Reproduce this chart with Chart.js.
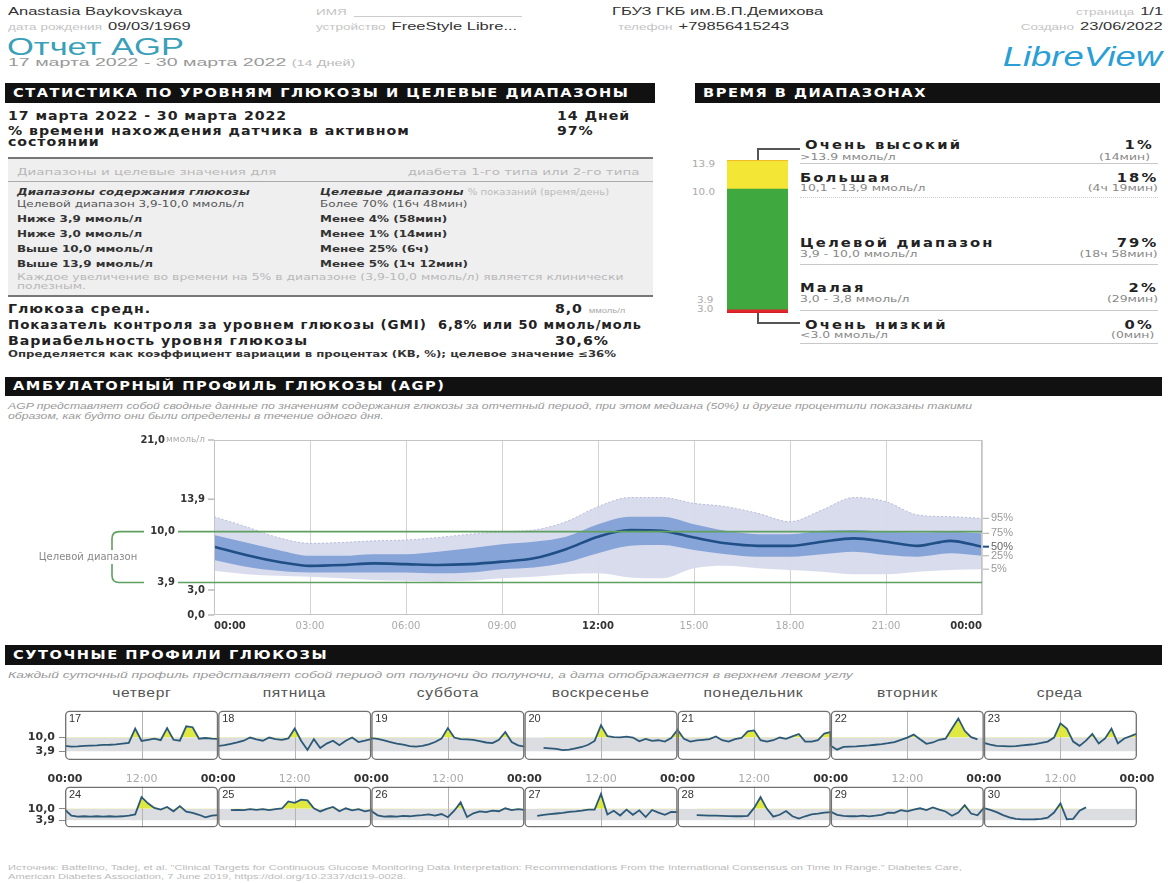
<!DOCTYPE html>
<html>
<head>
<meta charset="utf-8">
<script src="https://cdn.jsdelivr.net/npm/chart.js@4.4.0/dist/chart.umd.min.js"></script>
<style>
body{margin:0;width:1168px;height:883px;background:#fff;position:relative;overflow:hidden;font-family:"Liberation Sans",Arial,sans-serif;color:#222}
.a{position:absolute;white-space:nowrap;line-height:1;transform-origin:0 50%}
.ro{transform-origin:100% 50%}
.hd{font-size:11px;color:#333;transform:scaleX(1.5)}
.lbl{color:#c4c4c4;font-size:9px;margin-right:4px}
.bar{position:absolute;background:#111;color:#fff;font-family:"DejaVu Sans";font-weight:bold;font-size:11.5px;letter-spacing:1.2px;padding-left:8px;box-sizing:border-box;height:20px;line-height:20px;white-space:nowrap;overflow:hidden}
.bar span{display:inline-block;transform:scaleX(1.27);transform-origin:0 50%}
.b{font-family:"DejaVu Sans";font-weight:bold;font-size:12px;letter-spacing:0.8px;color:#222;transform:scaleX(1.18)}
.s{font-family:"DejaVu Sans";font-size:9px;color:#b8b8b8;transform:scaleX(1.5)}
.r{font-family:"DejaVu Sans";font-weight:bold;font-size:9.5px;color:#333;transform:scaleX(1.26)}
.rn{font-weight:normal;color:#555}
.unit{font-family:"Liberation Sans";font-weight:normal;font-size:8px;color:#aaa;letter-spacing:0}
.rule{position:absolute;height:1px;background:#c8c8c8}
.tb{font-family:"DejaVu Sans";font-weight:bold;font-size:12.5px;letter-spacing:1.8px;color:#222;transform:scaleX(1.18)}
.ts{font-family:"DejaVu Sans";font-size:9px;color:#888;transform:scaleX(1.38)}
.it{font-family:"Liberation Sans";font-style:italic;font-size:9px;color:#999}
.day{position:absolute;top:686px;width:153px;text-align:center;font-size:12px;color:#555;letter-spacing:0.5px}
.day span{display:inline-block;transform:scaleX(1.3)}
.chart{position:absolute}
</style>
</head>
<body>

<!-- шапка -->
<div class="a hd" style="left:8px;top:6px">Anastasia Baykovskaya</div>
<div class="a hd" style="left:8px;top:21px"><span class="lbl">дата рождения</span>09/03/1969</div>
<div class="a hd" style="left:316px;top:6px"><span class="lbl">ИМЯ</span></div>
<div class="rule" style="left:354px;top:16px;width:168px;background:#ccc"></div>
<div class="a hd" style="left:316px;top:21px"><span class="lbl">устройство</span>FreeStyle Libre...</div>
<div class="a hd" style="left:612px;top:6px">ГБУЗ ГКБ им.В.П.Демихова</div>
<div class="a hd" style="left:618px;top:21px"><span class="lbl">телефон</span>+79856415243</div>
<div class="a hd ro" style="right:5px;top:6px"><span class="lbl">страница</span>1/1</div>
<div class="a hd ro" style="right:5px;top:21px"><span class="lbl">Создано</span>23/06/2022</div>
<div class="a" style="left:7px;top:36px;font-size:23px;color:#3a9fb8;transform:scaleX(1.5)">Отчет AGP</div>
<div class="a" style="left:8px;top:57px;font-size:11.5px;color:#999;transform:scaleX(1.7)">17 марта 2022 - 30 марта 2022 <span style="font-size:8.5px;color:#bbb">(14 Дней)</span></div>
<div class="a ro" style="right:6px;top:44px;font-size:27px;font-style:italic;color:#2a9fd6;transform:scaleX(1.35)">LibreView</div>

<!-- статистика -->
<div class="bar" style="left:5px;top:83px;width:650px"><span>СТАТИСТИКА ПО УРОВНЯМ ГЛЮКОЗЫ И ЦЕЛЕВЫЕ ДИАПАЗОНЫ</span></div>
<div class="a b" style="left:8px;top:110px">17 марта 2022 - 30 марта 2022</div>
<div class="a b" style="left:557px;top:110px">14 Дней</div>
<div class="a b" style="left:8px;top:125px">% времени нахождения датчика в активном</div>
<div class="a b" style="left:8px;top:136px">состоянии</div>
<div class="a b" style="left:557px;top:125px">97%</div>
<div class="a" style="left:8px;top:158px;width:645px;height:138px;background:#efefef"></div>
<div class="rule" style="left:8px;top:157px;width:645px;height:2px;background:#777"></div>
<div class="a s" style="left:17px;top:168px">Диапазоны и целевые значения для</div>
<div class="a s ro" style="right:528px;top:168px">диабета 1-го типа или 2-го типа</div>
<div class="rule" style="left:8px;top:181px;width:645px;background:#aaa"></div>
<div class="a r" style="left:17px;top:187px;font-style:italic">Диапазоны содержания глюкозы</div>
<div class="a r" style="left:320px;top:187px;font-style:italic">Целевые диапазоны <span style="font-style:normal;font-weight:normal;color:#bbb;font-size:8px">% показаний (время/день)</span></div>
<div class="a r rn" style="left:17px;top:199px">Целевой диапазон 3,9-10,0 ммоль/л</div>
<div class="a r rn" style="left:320px;top:199px">Более 70% (16ч 48мин)</div>
<div class="a r" style="left:17px;top:214px">Ниже 3,9 ммоль/л</div>
<div class="a r" style="left:320px;top:214px">Менее 4% (58мин)</div>
<div class="a r" style="left:17px;top:229px">Ниже 3,0 ммоль/л</div>
<div class="a r" style="left:320px;top:229px">Менее 1% (14мин)</div>
<div class="a r" style="left:17px;top:244px">Выше 10,0 ммоль/л</div>
<div class="a r" style="left:320px;top:244px">Менее 25% (6ч)</div>
<div class="a r" style="left:17px;top:259px">Выше 13,9 ммоль/л</div>
<div class="a r" style="left:320px;top:259px">Менее 5% (1ч 12мин)</div>
<div class="a s" style="left:17px;top:274px;font-size:8px;transform:scaleX(1.55)">Каждое увеличение во времени на 5% в диапазоне (3,9-10,0 ммоль/л) является клинически</div>
<div class="a s" style="left:17px;top:283px;font-size:8px;transform:scaleX(1.55)">полезным.</div>
<div class="rule" style="left:8px;top:295px;width:645px;height:2px;background:#777"></div>
<div class="a b" style="left:8px;top:303px">Глюкоза средн.</div>
<div class="a b" style="left:555px;top:303px">8,0 <span class="unit">ммоль/л</span></div>
<div class="a b" style="left:8px;top:319px;transform:scaleX(1.12)">Показатель контроля за уровнем глюкозы (GMI)</div>
<div class="a b" style="left:438px;top:319px;transform:scaleX(1.08)">6,8% или 50 ммоль/моль</div>
<div class="a b" style="left:8px;top:335px">Вариабельность уровня глюкозы</div>
<div class="a b" style="left:555px;top:335px">30,6%</div>
<div class="a" style="left:8px;top:350px;font-family:'DejaVu Sans';font-weight:bold;font-size:8.5px;color:#333;transform:scaleX(1.38)">Определяется как коэффициент вариации в процентах (КВ, %); целевое значение ≤36%</div>

<!-- время в диапазонах -->
<div class="bar" style="left:695px;top:83px;width:465px"><span>ВРЕМЯ В ДИАПАЗОНАХ</span></div>
<div class="chart" style="left:727px;top:160px;width:61px;height:153px"><canvas id="tir"></canvas></div>
<div class="a ts" style="left:692px;top:160px;color:#aaa;transform:scaleX(1.15)">13.9</div>
<div class="a ts" style="left:692px;top:188px;color:#aaa;transform:scaleX(1.15)">10.0</div>
<div class="a ts" style="left:697px;top:296px;color:#aaa;transform:scaleX(1.15)">3.9</div>
<div class="a ts" style="left:697px;top:305px;color:#aaa;transform:scaleX(1.15)">3.0</div>
<div class="a" style="left:757px;top:148px;width:1.5px;height:12px;background:#555"></div>
<div class="a" style="left:757px;top:148px;width:43px;height:1.5px;background:#555"></div>
<div class="a" style="left:757px;top:313px;width:1.5px;height:10px;background:#555"></div>
<div class="a" style="left:757px;top:322px;width:43px;height:1.5px;background:#555"></div>

<div class="a tb" style="left:805px;top:139px">Очень высокий</div>
<div class="a tb ro" style="right:14px;top:139px">1%</div>
<div class="a ts" style="left:800px;top:153px">&gt;13.9 ммоль/л</div>
<div class="a ts ro" style="right:18px;top:153px">(14мин)</div>
<div class="rule" style="left:800px;top:163px;width:358px"></div>
<div class="a tb" style="left:800px;top:172px">Большая</div>
<div class="a tb ro" style="right:10px;top:172px">18%</div>
<div class="a ts" style="left:800px;top:184px">10,1 - 13,9 ммоль/л</div>
<div class="a ts ro" style="right:10px;top:184px">(4ч 19мин)</div>
<div class="rule" style="left:800px;top:197px;width:358px;background:none;border-top:1px dotted #ccc"></div>
<div class="a tb" style="left:800px;top:237px">Целевой диапазон</div>
<div class="a tb ro" style="right:10px;top:237px">79%</div>
<div class="a ts" style="left:800px;top:250px">3,9 - 10,0 ммоль/л</div>
<div class="a ts ro" style="right:10px;top:250px">(18ч 58мин)</div>
<div class="rule" style="left:800px;top:264px;width:358px"></div>
<div class="a tb" style="left:800px;top:282px">Малая</div>
<div class="a tb ro" style="right:10px;top:282px">2%</div>
<div class="a ts" style="left:800px;top:295px">3,0 - 3,8 ммоль/л</div>
<div class="a ts ro" style="right:10px;top:295px">(29мин)</div>
<div class="rule" style="left:800px;top:310px;width:358px"></div>
<div class="a tb" style="left:805px;top:319px">Очень низкий</div>
<div class="a tb ro" style="right:14px;top:319px">0%</div>
<div class="a ts" style="left:800px;top:331px">&lt;3.0 ммоль/л</div>
<div class="a ts ro" style="right:14px;top:331px">(0мин)</div>
<div class="rule" style="left:800px;top:343px;width:358px"></div>

<!-- AGP -->
<div class="bar" style="left:5px;top:377px;width:1157px;height:19px;line-height:19px"><span>АМБУЛАТОРНЫЙ ПРОФИЛЬ ГЛЮКОЗЫ (AGP)</span></div>
<div class="a it" style="left:8px;top:402px;transform:scaleX(1.36)">AGP представляет собой сводные данные по значениям содержания глюкозы за отчетный период, при этом медиана (50%) и другие процентили показаны такими</div>
<div class="a it" style="left:8px;top:412px;transform:scaleX(1.36)">образом, как будто они были определены в течение одного дня.</div>
<div class="chart" style="left:20px;top:432px;width:1010px;height:200px"><canvas id="agp"></canvas></div>

<!-- суточные профили -->
<div class="bar" style="left:5px;top:645px;width:1157px"><span>СУТОЧНЫЕ ПРОФИЛИ ГЛЮКОЗЫ</span></div>
<div class="a it" style="left:8px;top:671px;transform:scaleX(1.54)">Каждый суточный профиль представляет собой период от полуночи до полуночи, а дата отображается в верхнем левом углу</div>
<div id="dayNames"></div>
<div class="chart" style="left:10px;top:700px;width:1150px;height:82px"><canvas id="row1"></canvas></div>
<div class="chart" style="left:10px;top:776px;width:1150px;height:62px"><canvas id="row2"></canvas></div>

<div class="a" style="left:8px;top:864px;font-size:7.5px;color:#bbb;transform:scaleX(1.48)">Источник: Battelino, Tadej, et al. "Clinical Targets for Continuous Glucose Monitoring Data Interpretation: Recommendations From the International Consensus on Time in Range." Diabetes Care,</div>
<div class="a" style="left:8px;top:873px;font-size:7.5px;color:#bbb;transform:scaleX(1.48)">American Diabetes Association, 7 June 2019, https://doi.org/10.2337/dci19-0028.</div>

<script>
// ---- данные ----
const TARGET_LOW = 3.9;
const TARGET_HIGH = 10.0;

// время в диапазонах (снизу вверх)
const tirLabels = ['Очень низкий', 'Малая', 'Целевой диапазон', 'Большая', 'Очень высокий'];
const tirValues = [0, 2, 79, 18, 1];
const tirColors = ['#a3121b', '#e3262c', '#3fa93f', '#f4e635', '#f2c01e'];

// AGP, процентили по часам
const agpHours = [0, 1, 2, 3, 4, 5, 6, 7, 8, 9, 10, 11, 12, 13, 14, 15, 16, 17, 18, 19, 20, 21, 22, 23, 24];
const p5  = [5.3, 4.9, 4.7, 4.6, 4.4, 4.2, 4.1, 4.0, 4.1, 4.4, 4.6, 4.9, 5.0, 4.5, 4.4, 5.6, 5.9, 5.6, 5.4, 5.2, 4.9, 4.9, 5.2, 5.4, 5.5];
const p25 = [6.6, 5.8, 5.3, 5.1, 5.1, 5.1, 5.1, 5.0, 5.1, 5.5, 5.7, 6.3, 7.4, 8.3, 8.4, 7.8, 7.3, 7.0, 7.0, 7.3, 7.6, 7.2, 7.0, 7.4, 7.1];
const p50 = [8.2, 7.2, 6.4, 5.9, 6.0, 6.2, 6.1, 6.0, 6.1, 6.4, 6.8, 7.9, 9.4, 10.2, 10.1, 9.3, 8.6, 8.3, 8.3, 8.8, 9.2, 8.8, 8.3, 8.9, 8.2];
const p75 = [9.6, 8.7, 7.8, 7.1, 7.1, 7.3, 7.3, 7.6, 8.0, 8.5, 8.8, 9.4, 10.9, 11.8, 11.8, 10.9, 10.1, 9.7, 9.7, 10.1, 10.2, 10.0, 9.9, 10.0, 9.8];
const p95 = [11.8, 10.6, 9.3, 8.6, 8.7, 8.9, 9.0, 9.3, 9.7, 10.0, 10.2, 11.2, 13.0, 14.1, 14.1, 13.4, 13.0, 12.2, 11.2, 12.6, 14.1, 13.6, 12.0, 11.8, 11.6];
const agpTicksX = [0, 3, 6, 9, 12, 15, 18, 21, 24];
const agpTicksY = [0, 3.0, 3.9, 10.0, 13.9, 21.0];

// суточные профили, значения по часам 0..24
const dayNames = ['четверг', 'пятница', 'суббота', 'воскресенье', 'понедельник', 'вторник', 'среда'];
const week1 = [17, 18, 19, 20, 21, 22, 23];
const week2 = [24, 25, 26, 27, 28, 29, 30];
const day17 = [6.3, 6.0, 6.1, 6.3, 6.4, 6.5, 6.7, 6.8, 7.0, 7.3, 7.6, 14.0, 8.5, 9.0, 9.5, 8.8, 14.2, 9.0, 8.6, 15.0, 14.6, 9.5, 9.8, 9.5, 9.4];
const day18 = [6.2, 6.6, 7.2, 7.8, 8.6, 10.0, 9.2, 8.6, 10.0, 9.3, 9.0, 9.6, 14.0, 8.6, 4.5, 9.3, 5.3, 7.3, 8.6, 6.6, 8.6, 10.0, 8.0, 8.6, 9.3];
const day19 = [9.7, 9.4, 8.7, 8.0, 7.3, 6.8, 6.2, 6.0, 6.3, 7.0, 8.0, 9.5, 14.2, 10.0, 9.3, 9.2, 9.0, 8.4, 7.8, 7.5, 9.0, 12.5, 8.0, 6.5, 6.0];
const day20 = [null, null, null, 5.4, 5.2, 5.0, 4.4, 4.6, 5.2, 5.8, 6.8, 8.5, 15.5, 10.6, 10.2, 10.1, 10.4, 10.0, 8.3, 9.4, 8.5, 8.8, 8.2, 9.8, 13.5];
const day21 = [13.5, 9.4, 8.2, 8.7, 9.0, 9.3, 10.5, 8.8, 8.2, 9.3, 9.8, 12.8, 13.2, 8.8, 8.2, 8.8, 10.0, 9.4, 10.5, 11.6, 8.2, 8.2, 8.8, 11.8, 12.5];
const day22 = [6.3, 4.6, 5.8, 6.0, 6.1, 6.3, 6.5, 6.8, 7.1, 7.5, 8.0, 9.0, 10.0, 11.3, 9.2, 7.2, 7.8, 9.0, 9.5, 14.0, 18.5, 13.0, 10.2, 9.2, null];
const day23 = [7.6, 6.8, 6.3, 6.2, 6.1, 6.2, 6.5, 6.8, 7.1, 7.6, 8.2, 10.0, 16.3, 14.0, 8.2, 6.3, 8.6, 11.6, 7.4, 9.6, 14.0, 7.4, 9.6, 10.6, 11.8];
const day24 = [9.5, 6.3, 5.8, 6.0, 5.8, 6.0, 5.8, 6.0, 5.8, 6.0, 6.4, 7.0, 16.3, 13.0, 10.5, 9.6, 11.0, 8.7, 11.5, 8.5, 7.8, 6.8, 5.4, 6.3, 6.6];
const day25 = [null, null, 9.3, 9.5, 9.3, 9.8, 9.5, 9.8, 9.3, 9.8, 10.2, 14.0, 13.2, 15.0, 14.6, 10.3, 8.6, 10.0, 11.0, 8.7, 10.3, 9.2, 9.8, 8.7, 9.3];
const day26 = [8.8, 6.5, 5.8, 6.0, 5.8, 6.2, 6.0, 6.4, 6.6, 7.0, 6.4, 7.2, 5.5, 9.0, 13.5, 5.6, 7.6, 8.6, 8.2, 9.0, 8.7, 10.3, 9.3, 9.8, 9.5];
const day27 = [null, null, 6.2, 6.8, 7.2, 7.5, 7.8, 8.4, 8.6, 9.0, 9.6, 9.6, 18.0, 7.0, 9.0, 6.4, 9.6, 6.8, 9.2, 5.6, 9.4, 8.0, 6.8, 8.4, 8.2];
const day28 = [null, null, null, 6.6, 6.5, 6.4, 6.3, 6.2, 6.1, 6.0, 6.0, 6.2, 10.5, 16.3, 10.0, 5.8, 6.8, 8.8, 6.0, 4.8, 6.0, 7.0, 7.4, 8.0, 8.2];
const day29 = [8.5, 6.8, 6.2, 6.0, 6.0, 6.3, 6.0, 6.3, 6.8, 8.0, 7.8, 9.3, 8.7, 9.6, 10.3, 9.3, 10.8, 9.6, 8.6, 6.3, 8.0, 12.0, 7.5, 6.5, 10.5];
const day30 = [10.4, 9.4, 8.2, 6.6, 5.4, 4.6, 4.3, 4.3, 4.4, 4.6, 5.2, 8.0, 13.0, 4.4, 4.6, 9.0, 10.8, null, null, null, null, null, null, null, null];
const dailyTicksX = [0, 12, 24, 36, 48, 60, 72, 84, 96, 108, 120, 132, 144, 156, 168];
const dailyTicksY = [3.9, 10.0];

const fmt = v => v.toFixed(1).replace('.', ',');
const tickVal = c => (c.tick ? c.tick.value : 0);

// названия дней над профилями
const namesBox = document.getElementById('dayNames');
dayNames.forEach((n, i) => {
    const d = document.createElement('div');
    d.className = 'day';
    d.style.left = (65 + i * 153.1) + 'px';
    d.innerHTML = '<span>' + n + '</span>';
    namesBox.appendChild(d);
});

// ---- время в диапазонах ----
new Chart(document.getElementById('tir'), {
    type: 'bar',
    data: {
        labels: [''],
        datasets: tirValues.map((v, i) => ({
            label: tirLabels[i], data: [v], backgroundColor: tirColors[i],
            borderWidth: 0, barPercentage: 1, categoryPercentage: 1
        }))
    },
    options: {
        animation: false, responsive: true, maintainAspectRatio: false,
        layout: { padding: 0 },
        plugins: { legend: { display: false }, tooltip: { enabled: false } },
        scales: {
            x: { stacked: true, display: false },
            y: { stacked: true, display: false, min: 0, max: 100 }
        }
    }
});

// ---- AGP ----
const agpPts = arr => agpHours.map((h, i) => ({ x: h, y: arr[i] }));

const agpDecor = {
    id: 'agpDecor',
    afterDatasetsDraw(chart) {
        const { ctx, chartArea: a, scales: { y } } = chart;
        ctx.save();
        ctx.strokeStyle = '#c4c4c4'; ctx.lineWidth = 1;
        ctx.strokeRect(a.left + 0.5, a.top + 0.5, a.width - 1, a.height - 1);

        const yHi = y.getPixelForValue(TARGET_HIGH), yLo = y.getPixelForValue(TARGET_LOW);
        ctx.strokeStyle = '#5f9f5f'; ctx.lineWidth = 1.6;
        [yHi, yLo].forEach(py => {
            ctx.beginPath(); ctx.moveTo(a.left - 36, py); ctx.lineTo(a.right, py); ctx.stroke();
        });
        // скобка "Целевой диапазон"
        const bx = a.left - 102, ex = a.left - 70, mid = (yHi + yLo) / 2;
        ctx.beginPath();
        ctx.moveTo(ex, yHi); ctx.lineTo(bx + 7, yHi); ctx.quadraticCurveTo(bx, yHi, bx, yHi + 7); ctx.lineTo(bx, mid - 7);
        ctx.moveTo(bx, mid + 7); ctx.lineTo(bx, yLo - 7); ctx.quadraticCurveTo(bx, yLo, bx + 7, yLo); ctx.lineTo(ex, yLo);
        ctx.stroke();
        ctx.font = '10px "DejaVu Sans"'; ctx.fillStyle = '#888';
        ctx.textAlign = 'center'; ctx.textBaseline = 'middle';
        ctx.fillText('Целевой диапазон', bx - 24, mid);

        // подписи оси Y
        ctx.textAlign = 'right';
        agpTicksY.forEach(v => {
            const py = y.getPixelForValue(v);
            ctx.font = 'bold 10px "DejaVu Sans"'; ctx.fillStyle = '#333';
            if (v === TARGET_HIGH || v === TARGET_LOW) {
                ctx.fillText(fmt(v), a.left - 39, py);
                return;
            }
            ctx.strokeStyle = '#999'; ctx.lineWidth = 1;
            ctx.beginPath(); ctx.moveTo(a.left - 6, py); ctx.lineTo(a.left, py); ctx.stroke();
            if (v === 21) {
                ctx.font = '9px "DejaVu Sans"'; ctx.fillStyle = '#aaa';
                const unit = 'ммоль/л';
                ctx.fillText(unit, a.left - 9, py);
                const w = ctx.measureText(unit).width;
                ctx.font = 'bold 10px "DejaVu Sans"'; ctx.fillStyle = '#333';
                ctx.fillText(fmt(v), a.left - 10 - w, py);
            } else {
                ctx.fillText(fmt(v), a.left - 9, py);
            }
        });

        // подписи процентилей справа
        ctx.textAlign = 'left'; ctx.font = '11px "Liberation Sans"';
        [[p95, '95%'], [p75, '75%'], [p50, '50%'], [p25, '25%'], [p5, '5%']].forEach(([arr, t]) => {
            const py = y.getPixelForValue(arr[arr.length - 1]);
            ctx.strokeStyle = t === '50%' ? '#1f4f86' : '#aaa'; ctx.lineWidth = t === '50%' ? 2 : 1;
            ctx.beginPath(); ctx.moveTo(a.right + 1, py); ctx.lineTo(a.right + 7, py); ctx.stroke();
            ctx.fillStyle = t === '50%' ? '#666' : '#999';
            ctx.fillText(t, a.right + 9, py);
        });
        ctx.restore();
    }
};

new Chart(document.getElementById('agp'), {
    type: 'line',
    data: {
        datasets: [
            { label: '50%', data: agpPts(p50), borderColor: '#1f4f86', borderWidth: 2.6, fill: false, order: 0 },
            { label: '75%', data: agpPts(p75), borderColor: 'rgba(0,0,0,0)', backgroundColor: 'rgba(120,154,210,0.85)', fill: 2, order: 1 },
            { label: '25%', data: agpPts(p25), borderColor: 'rgba(0,0,0,0)', fill: false, order: 2 },
            { label: '95%', data: agpPts(p95), borderColor: 'rgba(178,183,214,0.9)', borderDash: [2, 2], borderWidth: 1,
              backgroundColor: 'rgba(214,218,236,0.95)', fill: 4, order: 3 },
            { label: '5%', data: agpPts(p5), borderColor: 'rgba(0,0,0,0)', fill: false, order: 4 }
        ]
    },
    options: {
        animation: false, responsive: true, maintainAspectRatio: false,
        layout: { padding: { top: 8, right: 48, left: 0, bottom: 0 } },
        elements: { point: { radius: 0 }, line: { tension: 0.4, cubicInterpolationMode: 'monotone' } },
        plugins: { legend: { display: false }, tooltip: { enabled: false } },
        scales: {
            x: {
                type: 'linear', min: 0, max: 24,
                afterBuildTicks: s => { s.ticks = agpTicksX.map(v => ({ value: v })); },
                afterFit: s => { s.height = 17; },
                grid: { color: '#d2d2d2', drawTicks: false },
                border: { display: false },
                ticks: {
                    align: 'inner', maxRotation: 0, autoSkip: false, padding: 5,
                    callback: v => String(v % 24).padStart(2, '0') + ':00',
                    color: c => (tickVal(c) % 12 === 0 ? '#333' : '#aaa'),
                    font: c => ({ family: 'DejaVu Sans', size: 10, weight: tickVal(c) % 12 === 0 ? 'bold' : 'normal' })
                }
            },
            y: {
                min: 0, max: 21,
                afterFit: s => { s.width = 194; },
                ticks: { display: false },
                grid: { display: false },
                border: { display: false }
            }
        }
    },
    plugins: [agpDecor]
});

// ---- суточные профили ----
const dailyDecor = {
    id: 'dailyDecor',
    beforeDatasetsDraw(chart) {
        const { ctx, chartArea: a, scales: { x, y } } = chart;
        const yHi = y.getPixelForValue(TARGET_HIGH), yLo = y.getPixelForValue(TARGET_LOW);
        ctx.save();
        ctx.fillStyle = '#dcdde0';
        ctx.fillRect(a.left, yHi, a.width, yLo - yHi);
        ctx.strokeStyle = '#b4b4b4'; ctx.lineWidth = 1;
        for (let d = 0; d < 7; d++) {
            const xm = Math.round(x.getPixelForValue(d * 24 + 12)) + 0.5;
            ctx.beginPath(); ctx.moveTo(xm, a.top); ctx.lineTo(xm, a.bottom); ctx.stroke();
        }
        ctx.restore();
    },
    afterDatasetsDraw(chart, args, opts) {
        const { ctx, chartArea: a, scales: { x } } = chart;
        ctx.save();
        ctx.strokeStyle = '#707070'; ctx.lineWidth = 1.3;
        ctx.font = '11px "Liberation Sans"'; ctx.fillStyle = '#333';
        ctx.textAlign = 'left'; ctx.textBaseline = 'top';
        opts.days.forEach((num, d) => {
            const x0 = x.getPixelForValue(d * 24), x1 = x.getPixelForValue(d * 24 + 24);
            ctx.beginPath();
            ctx.roundRect(x0 + 0.7, a.top + 0.7, x1 - x0 - 1.4, a.height - 1.4, 4);
            ctx.stroke();
            ctx.fillText(String(num), x0 + 4, a.top + 3);
        });
        ctx.restore();
    }
};

function dailyRow(id, days, nums, showX) {
    const pts = [];
    days.forEach((arr, d) => arr.forEach((v, h) => pts.push({ x: d * 24 + h, y: v })));
    return new Chart(document.getElementById(id), {
        type: 'line',
        data: {
            datasets: [{
                data: pts, borderColor: '#2b5977', borderWidth: 1.8, pointRadius: 0, tension: 0,
                spanGaps: false,
                fill: { target: { value: TARGET_HIGH }, above: 'rgba(222,232,55,0.95)', below: 'rgba(0,0,0,0)' }
            }]
        },
        options: {
            animation: false, responsive: true, maintainAspectRatio: false,
            layout: { padding: { top: 6, right: 23, left: 0, bottom: 0 } },
            plugins: { legend: { display: false }, tooltip: { enabled: false }, dailyDecor: { days: nums } },
            scales: {
                x: {
                    type: 'linear', min: 0, max: 168,
                    afterBuildTicks: s => { s.ticks = dailyTicksX.map(v => ({ value: v })); },
                    afterFit: s => { s.height = showX ? 22 : 2; },
                    grid: { display: false }, border: { display: false },
                    ticks: {
                        display: showX, maxRotation: 0, autoSkip: false, padding: 5,
                        callback: v => (v % 24 === 0 ? '00:00' : '12:00'),
                        color: c => (tickVal(c) % 24 === 0 ? '#333' : '#aaa'),
                        font: c => ({ family: 'DejaVu Sans', size: 11, weight: tickVal(c) % 24 === 0 ? 'bold' : 'normal' })
                    }
                },
                y: {
                    min: 0, max: 22,
                    afterBuildTicks: s => { s.ticks = dailyTicksY.map(v => ({ value: v })); },
                    afterFit: s => { s.width = 55; },
                    grid: { drawOnChartArea: false, tickLength: 6, color: '#888' },
                    border: { display: false },
                    ticks: { padding: 4, color: '#333', font: { family: 'DejaVu Sans', size: 11, weight: 'bold' }, callback: v => fmt(v) }
                }
            }
        },
        plugins: [dailyDecor]
    });
}

dailyRow('row1', [day17, day18, day19, day20, day21, day22, day23], week1, true);
dailyRow('row2', [day24, day25, day26, day27, day28, day29, day30], week2, false);
</script>
</body>
</html>
